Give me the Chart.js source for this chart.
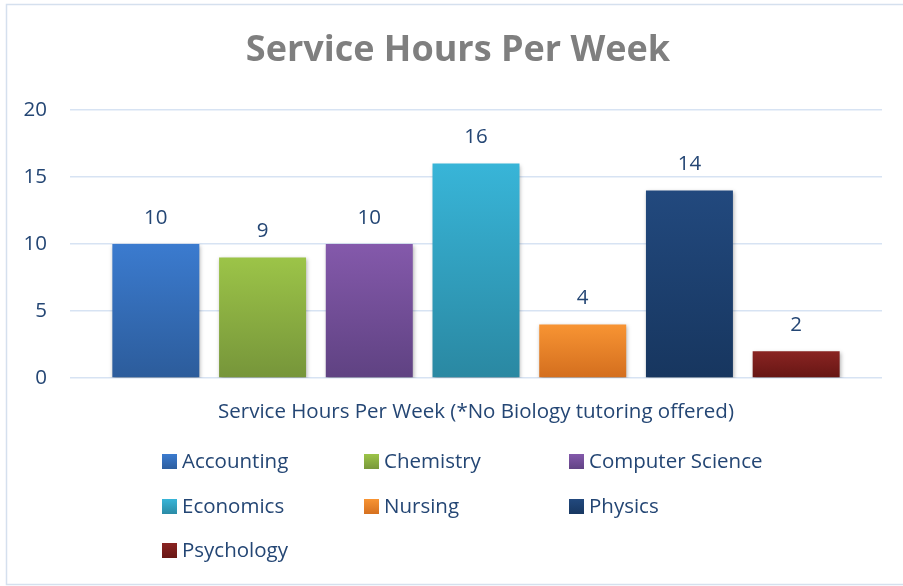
<!DOCTYPE html>
<html lang="en">

<head>
    <meta charset="UTF-8">
    <title>Service Hours Per Week</title>
    <script src="https://cdn.jsdelivr.net/npm/chart.js"></script>
    <style>
        body { margin: 0; background: #fff; }
        #wrap { width: 903px; height: 586px; }
    </style>
</head>

<body>
    <div id="wrap"><canvas id="hoursChart"></canvas></div>

    <script>
        // Data
        const categories = ['Service Hours Per Week (*No Biology tutoring offered)'];
        const subjects = ['Accounting', 'Chemistry', 'Computer Science', 'Economics', 'Nursing', 'Physics', 'Psychology'];
        const hours = [10, 9, 10, 16, 4, 14, 2];
        const yTicks = [0, 5, 10, 15, 20];

        // top / bottom gradient colours per subject
        const topColors = ['#3b7bcf', '#9cc448', '#8459ab', '#38b5d8', '#f89433', '#22497e', '#8a2422'];
        const bottomColors = ['#2c5c9b', '#76953a', '#5f4282', '#2a88a2', '#d36e1e', '#17365f', '#661614'];

        const textBlue = '#244674';
        const gridBlue = '#d7e3f3';
        const fontFamily = '"Open Sans", Lato, sans-serif';
        const textSize = 20.5;

        function barGradient(ctx, i, top, bottom) {
            const g = ctx.createLinearGradient(0, top, 0, bottom);
            g.addColorStop(0, topColors[i]);
            g.addColorStop(1, bottomColors[i]);
            return g;
        }

        // Outer border, title, shadows, value labels and grid-style legend
        const decorPlugin = {
            id: 'decor',
            beforeDraw(chart) {
                const ctx = chart.ctx;
                ctx.save();
                ctx.strokeStyle = '#d5e0ee';
                ctx.lineWidth = 1.5;
                ctx.strokeRect(6.5, 4.5, 900, 580);
                ctx.fillStyle = '#7f7f7f';
                ctx.font = 'bold 36px ' + fontFamily;
                ctx.textAlign = 'center';
                ctx.textBaseline = 'middle';
                ctx.fillText('Service Hours Per Week', 458, 51);
                ctx.restore();
            },
            beforeDatasetsDraw(chart) {
                const ctx = chart.ctx;
                ctx.save();
                ctx.shadowColor = 'rgba(0,0,0,0.3)';
                ctx.shadowBlur = 4;
                ctx.shadowOffsetX = 1;
                ctx.shadowOffsetY = 2;
            },
            afterDatasetsDraw(chart) {
                const ctx = chart.ctx;
                ctx.restore();
                ctx.save();
                ctx.fillStyle = textBlue;
                ctx.font = textSize + 'px ' + fontFamily;
                ctx.textAlign = 'center';
                ctx.textBaseline = 'middle';
                chart.data.datasets.forEach((ds, i) => {
                    chart.getDatasetMeta(i).data.forEach((bar, j) => {
                        ctx.fillText(ds.data[j], bar.x, bar.y - 26);
                    });
                });

                // legend: 3 columns
                const colX = [162, 364, 569];
                const rowY = [462, 507, 551];
                ctx.textAlign = 'left';
                chart.data.datasets.forEach((ds, i) => {
                    const x = colX[i % 3];
                    const y = rowY[Math.floor(i / 3)];
                    ctx.fillStyle = barGradient(ctx, i, y - 8, y + 8);
                    ctx.fillRect(x, y - 8, 15, 15);
                    ctx.fillStyle = textBlue;
                    ctx.fillText(ds.label, x + 20, y);
                });
                ctx.restore();
            }
        };

        const ctx = document.getElementById('hoursChart').getContext('2d');
        const chart = new Chart(ctx, {
            type: 'bar',
            data: {
                labels: categories,
                datasets: subjects.map((name, i) => ({
                    label: name,
                    data: [hours[i]],
                    backgroundColor: function(context) {
                        const c = context.chart;
                        if (!c.chartArea) return topColors[i];
                        const v = context.raw || 0;
                        const top = c.scales.y.getPixelForValue(v);
                        const bottom = c.scales.y.getPixelForValue(0);
                        return barGradient(c.ctx, i, top, bottom + 0.01);
                    },
                    borderWidth: 0,
                    categoryPercentage: 0.92,
                    barPercentage: 0.815
                }))
            },
            options: {
                responsive: true,
                maintainAspectRatio: false,
                animation: false,
                layout: {
                    padding: { top: 110, right: 21, left: 0, bottom: 0 }
                },
                plugins: {
                    legend: { display: false },
                    title: { display: false },
                    tooltip: { enabled: false }
                },
                scales: {
                    x: {
                        grid: { display: false },
                        border: { display: false },
                        ticks: {
                            color: textBlue,
                            font: { family: fontFamily, size: textSize },
                            padding: 14,
                            maxRotation: 0
                        },
                        afterFit: function(scale) {
                            scale.height = 208;
                        }
                    },
                    y: {
                        min: 0,
                        max: 20,
                        grid: { color: gridBlue, lineWidth: 1.5, drawTicks: false },
                        border: { display: false },
                        afterBuildTicks: function(scale) {
                            scale.ticks = yTicks.map(v => ({ value: v }));
                        },
                        ticks: {
                            color: textBlue,
                            font: { family: fontFamily, size: textSize },
                            padding: 23
                        },
                        afterFit: function(scale) {
                            scale.width = 70;
                        }
                    }
                }
            },
            plugins: [decorPlugin]
        });
    </script>
</body>

</html>
